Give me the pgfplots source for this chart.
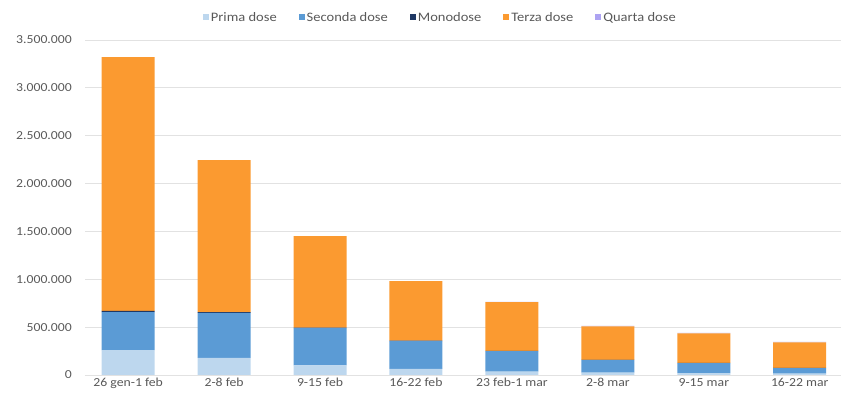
\documentclass[border=0pt]{standalone}
\usepackage{pgfplots}
\pgfplotsset{compat=1.18}
\usepackage{fontspec}
\setmainfont{Carlito}[FakeStretch=1.12]
\definecolor{prima}{HTML}{BDD7EE}
\definecolor{seconda}{HTML}{5B9BD5}
\definecolor{mono}{HTML}{1F3864}
\definecolor{terza}{HTML}{FB9A30}
\definecolor{quarta}{HTML}{ADA3F2}
\definecolor{txt}{HTML}{595959}
\definecolor{grd}{HTML}{E2E2E2}
\begin{document}
\fontsize{12}{14}\selectfont
\begin{tikzpicture}
\begin{axis}[
  at={(0,0)}, anchor=south west,
  scale only axis,
  width=756bp, height=335bp,
  ybar stacked,
  bar width=53bp,
  xmin=-0.45, xmax=7.43,
  ymin=0, ymax=3500000,
  ytick={0,500000,1000000,1500000,2000000,2500000,3000000,3500000},
  scaled y ticks=false,
  yticklabel style={xshift=-9bp, /pgf/number format/fixed, /pgf/number format/1000 sep={.}, /pgf/number format/assume math mode=true},
  xtick=data,
  xticklabels={26 gen-1 feb,2-8 feb,9-15 feb,16-22 feb,23 feb-1 mar,2-8 mar,9-15 mar,16-22 mar},
  ymajorgrids, grid style={grd, line width=0.8pt},
  axis line style={draw=none},
  axis x line*=bottom,
  x axis line style={draw=grd, line width=0.8pt},
  major tick length=0pt,
  tick label style={text=txt, font=\fontsize{12.3}{14}\selectfont},
  xticklabel style={yshift=1bp},
  legend style={at={(0.47,1)}, anchor=south, yshift=13bp, draw=none, fill=none,
    legend columns=5, font=\fontsize{13}{15}\selectfont, text=txt,
    /tikz/every even column/.append style={column sep=20bp}},
  legend image code/.code={\fill[#1] (0bp,-3bp) rectangle (6bp,3bp);},
  every axis plot/.append style={draw=none},
]
\addplot[fill=prima] coordinates {(0,260000) (1,178000) (2,100000) (3,65000) (4,35000) (5,25000) (6,20000) (7,15000)};
\addplot[fill=seconda] coordinates {(0,398000) (1,470000) (2,391000) (3,290000) (4,215000) (5,132000) (6,105000) (7,58000)};
\addplot[fill=mono] coordinates {(0,12000) (1,10000) (2,5000) (3,5000) (4,3000) (5,2000) (6,2000) (7,1000)};
\addplot[fill=terza] coordinates {(0,2650000) (1,1588000) (2,956000) (3,622000) (4,508000) (5,350000) (6,308000) (7,267000)};
\addplot[fill=quarta] coordinates {(0,0) (1,0) (2,0) (3,0) (4,2000) (5,3000) (6,4000) (7,4000)};
\legend{Prima dose,Seconda dose,Monodose,Terza dose,Quarta dose}
\end{axis}
\pgfresetboundingbox
\path (-85bp,-25bp) rectangle (756bp,375bp);
\end{tikzpicture}
\end{document}
